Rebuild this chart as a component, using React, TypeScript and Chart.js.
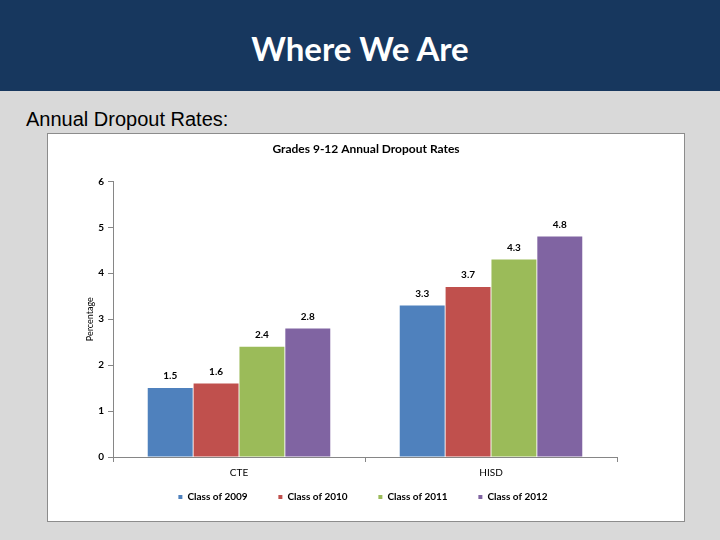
import React, { useEffect, useRef } from 'react';
import { Chart, registerables } from 'chart.js';

Chart.register(...registerables);

const categories = ['CTE', 'HISD'];
const seriesNames = ['Class of 2009', 'Class of 2010', 'Class of 2011', 'Class of 2012'];
const class2009 = [1.5, 3.3];
const class2010 = [1.6, 3.7];
const class2011 = [2.4, 4.3];
const class2012 = [2.8, 4.8];
const seriesColors = ['#4F81BD', '#C0504D', '#9BBB59', '#8064A2'];
const yTickValues = [0, 1, 2, 3, 4, 5, 6];
const chartTitle = 'Grades 9-12 Annual Dropout Rates';
const yAxisTitle = 'Percentage';

const FONT = 'Lato';
const AXIS_COLOR = '#868686';

const valueLabels = {
  id: 'valueLabels',
  afterDatasetsDraw(chart: any) {
    const ctx = chart.ctx;
    ctx.save();
    ctx.font = `bold 10px ${FONT}`;
    ctx.fillStyle = '#000';
    ctx.textAlign = 'center';
    ctx.textBaseline = 'middle';
    chart.data.datasets.forEach((ds: any, i: number) => {
      const meta = chart.getDatasetMeta(i);
      meta.data.forEach((bar: any, j: number) => {
        ctx.fillText(String(ds.data[j]), bar.x, bar.y - 12);
      });
    });
    ctx.restore();
  },
};

// Legend row drawn from the datasets' own labels and colours
const legendRow = {
  id: 'legendRow',
  afterDraw(chart: any) {
    const ctx = chart.ctx;
    const datasets = chart.data.datasets;
    const pitch = 100;
    const box = 4;
    const gap = 5;
    ctx.save();
    ctx.font = `bold 10px ${FONT}`;
    const lastW = box + gap + ctx.measureText(datasets[datasets.length - 1].label).width;
    const total = pitch * (datasets.length - 1) + lastW;
    let x = (chart.width - total) / 2 - 3;
    const y = chart.chartArea.bottom + 40;
    ctx.textAlign = 'left';
    ctx.textBaseline = 'middle';
    datasets.forEach((ds: any) => {
      ctx.fillStyle = ds.backgroundColor;
      ctx.fillRect(x, y - box / 2, box, box);
      ctx.fillStyle = '#000';
      ctx.fillText(ds.label, x + box + gap, y);
      x += pitch;
    });
    ctx.restore();
  },
};

function DropoutChart() {
  const ref = useRef<HTMLCanvasElement | null>(null);
  useEffect(() => {
    if (!ref.current) return;
    const seriesValues = [class2009, class2010, class2011, class2012];
    const chart = new Chart(ref.current, {
      type: 'bar',
      data: {
        labels: categories,
        datasets: seriesNames.map((name, i) => ({
          label: name,
          data: seriesValues[i],
          backgroundColor: seriesColors[i],
          borderWidth: 0,
          barPercentage: 0.98,
          categoryPercentage: 0.728,
          yAxisID: 'y',
        })),
      },
      options: {
        responsive: false,
        animation: false,
        layout: { padding: { left: 0, right: 0, top: 0, bottom: 40 } },
        font: { family: FONT },
        plugins: {
          title: {
            display: true,
            text: chartTitle,
            color: '#000',
            font: { family: FONT, size: 12, weight: 'bold' },
            padding: { top: 8, bottom: 25 },
          },
          legend: { display: false },
          tooltip: { enabled: false },
        },
        scales: {
          x: {
            offset: true,
            grid: { drawOnChartArea: false, drawTicks: true, tickLength: 5, color: AXIS_COLOR, offset: true },
            border: { color: AXIS_COLOR },
            ticks: { color: '#000', padding: 5, font: { family: FONT, size: 10 } },
            afterFit: (scale: any) => { scale.height = 24; },
          },
          y: {
            min: 0,
            max: 6,
            position: 'left',
            afterBuildTicks: (scale: any) => { scale.ticks = yTickValues.map((v) => ({ value: v })); },
            grid: { drawOnChartArea: false, drawTicks: true, tickLength: 5, color: AXIS_COLOR },
            border: { color: AXIS_COLOR },
            ticks: { color: '#000', padding: 4, font: { family: FONT, size: 10, weight: 'bold' } },
            title: {
              display: true,
              text: yAxisTitle,
              color: '#000',
              padding: { top: 37, bottom: 0 },
              font: { family: FONT, size: 9 },
            },
            afterFit: (scale: any) => { scale.width = 65; },
          },
          yRight: {
            type: 'linear',
            position: 'right',
            display: true,
            grid: { display: false },
            ticks: { display: false },
            border: { display: false },
            afterFit: (scale: any) => { scale.width = 67; },
          },
        },
      },
      plugins: [valueLabels, legendRow],
    } as any);
    return () => chart.destroy();
  }, []);
  return <canvas ref={ref} width={636} height={387} style={{ display: 'block', width: 636, height: 387 }} />;
}

export default function App() {
  return (
    <div style={{ position: 'absolute', left: 0, top: 0, width: 720, height: 540, background: '#d9d9d9', overflow: 'hidden' }}>
      <div style={{ position: 'absolute', left: 0, top: 0, width: 720, height: 91, background: '#17375e' }}>
        <div
          style={{
            position: 'absolute',
            left: 0,
            width: 720,
            top: 28,
            textAlign: 'center',
            color: '#fff',
            fontFamily: 'Lato',
            fontWeight: 'bold',
            fontSize: 33,
            lineHeight: '40px',
          }}
        >
          Where We Are
        </div>
      </div>
      <div
        style={{
          position: 'absolute',
          left: 26,
          top: 107,
          color: '#000',
          fontFamily: '"Liberation Sans", Arial, sans-serif',
          fontSize: 20,
          lineHeight: '24px',
          whiteSpace: 'nowrap',
        }}
      >
        Annual Dropout Rates:
      </div>
      <div
        style={{
          position: 'absolute',
          left: 47,
          top: 133,
          width: 636,
          height: 387,
          border: '1px solid #8c8c8c',
          background: '#fff',
        }}
      >
        <DropoutChart />
      </div>
    </div>
  );
}
